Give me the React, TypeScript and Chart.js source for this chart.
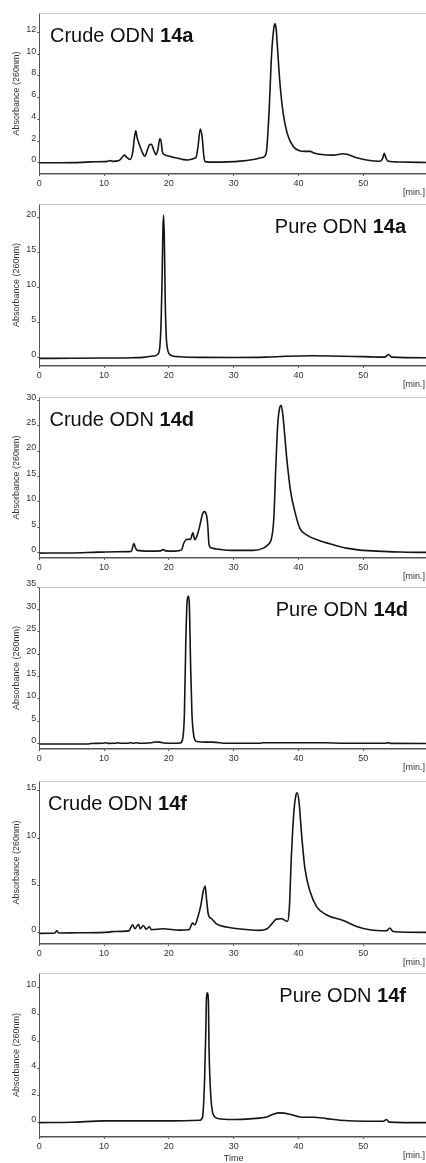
import React, { useEffect, useRef } from 'react';
import { Chart, registerables } from 'chart.js';

Chart.register(...registerables);

// ---------- tick labels ----------
const xTicks = [0, 10, 20, 30, 40, 50];
const yTicks14aCrude = [0, 2, 4, 6, 8, 10, 12];
const yTicks14aPure = [0, 5, 10, 15, 20];
const yTicks14dCrude = [0, 5, 10, 15, 20, 25, 30];
const yTicks14dPure = [0, 5, 10, 15, 20, 25, 30, 35];
const yTicks14fCrude = [0, 5, 10, 15];
const yTicks14fPure = [0, 2, 4, 6, 8, 10];

// ---------- series (time [min], absorbance) ----------
const crude14aTime = [0, 3, 6.5, 8, 10.5, 11.0, 11.3, 12.3, 12.8, 13.1, 13.5, 14.0, 14.4, 14.7, 14.9, 15.1, 15.4, 15.8, 16.3, 16.7, 17.0, 17.3, 17.7, 18.0, 18.3, 18.6, 18.8, 19.0, 19.3, 20.0, 21.0, 22.0, 23.0, 23.4, 23.8, 24.2, 24.5, 24.85, 25.15, 25.4, 25.6, 27, 29, 31, 33, 34.2, 34.8, 35.1, 35.45, 35.86, 36.2, 36.37, 36.55, 36.79, 37.15, 37.66, 38.27, 39.2, 40.2, 41.0, 41.8, 42.4, 43.3, 45.4, 46.9, 47.5, 49, 50.5, 52.6, 53.0, 53.24, 53.5, 53.8, 55.7, 60];
const crude14aAbs = [0, 0, 0.03, 0.08, 0.12, 0.2, 0.12, 0.2, 0.5, 0.7, 0.5, 0.3, 0.9, 2.4, 2.95, 2.3, 1.75, 1.1, 0.6, 1.2, 1.65, 1.7, 1.1, 0.75, 1.2, 2.2, 2.0, 1.0, 0.75, 0.62, 0.45, 0.32, 0.25, 0.3, 0.38, 0.5, 1.5, 3.1, 2.3, 0.6, 0.1, 0.05, 0.08, 0.15, 0.3, 0.45, 0.6, 1.2, 4.5, 10.0, 12.4, 12.8, 12.4, 10.4, 7.3, 4.5, 2.7, 1.5, 1.1, 1.05, 1.05, 0.9, 0.78, 0.7, 0.82, 0.78, 0.46, 0.25, 0.13, 0.4, 0.86, 0.45, 0.15, 0.06, 0.02];

const pure14aTime = [0, 5, 10, 14.5, 16, 17.6, 18.3, 18.6, 18.8, 18.95, 19.08, 19.19, 19.3, 19.44, 19.6, 19.8, 20.1, 20.6, 21.7, 25, 30, 35, 38, 42, 45, 50, 53.3, 53.9, 54.4, 60];
const pure14aAbs = [-0.1, -0.08, -0.05, 0, 0.05, 0.24, 0.5, 1.5, 5, 11, 18.2, 20.3, 17, 8, 3, 1.2, 0.5, 0.25, 0.14, 0.05, 0.03, 0.08, 0.2, 0.28, 0.25, 0.15, 0.08, 0.45, 0.08, 0];

const crude14dTime = [0, 5, 9, 12, 14.2, 14.6, 14.85, 15.1, 17, 18.7, 19.1, 19.5, 21, 21.96, 22.3, 22.7, 23.35, 23.7, 24.0, 24.4, 24.8, 25.15, 25.46, 25.8, 26.0, 26.2, 26.6, 27.9, 29.9, 33, 34.6, 35.3, 35.85, 36.2, 36.5, 36.8, 37.1, 37.35, 37.65, 38.2, 38.8, 39.45, 40.2, 41.25, 43.3, 45.4, 47.4, 49.5, 53.1, 55.7, 60];
const crude14dAbs = [-0.13, -0.1, 0.05, 0.12, 0.2, 1.77, 0.9, 0.4, 0.25, 0.3, 0.55, 0.3, 0.25, 0.5, 1.8, 2.55, 2.6, 3.86, 2.5, 3.5, 5.4, 7.4, 8.05, 7.4, 5.4, 1.5, 0.85, 0.6, 0.4, 0.4, 0.85, 1.5, 2.8, 6.7, 16.6, 25.1, 28.5, 29.0, 26.4, 18.5, 12, 8.05, 4.8, 3.47, 2.3, 1.5, 0.85, 0.46, 0.2, 0.07, 0];

const pure14dTime = [0, 7.5, 8, 9.8, 10.2, 10.6, 11.8, 12.1, 12.5, 13.8, 14.1, 14.5, 15.0, 15.5, 17.2, 17.8, 18.6, 19.2, 21, 21.7, 22.1, 22.4, 22.6, 22.8, 23.0, 23.15, 23.35, 23.56, 23.87, 24.3, 25.8, 26.8, 28.9, 34, 34.6, 44, 46.9, 53.4, 53.8, 54.2, 60];
const pure14dAbs = [-0.05, -0.05, 0.05, 0.1, 0.2, 0.08, 0.1, 0.22, 0.1, 0.12, 0.25, 0.1, 0.2, 0.1, 0.2, 0.4, 0.35, 0.15, 0.1, 0.15, 0.9, 6.8, 21.7, 31.4, 33, 31.4, 18, 6.8, 1.6, 0.5, 0.35, 0.35, 0.1, 0.1, 0.22, 0.22, 0.1, 0.1, 0.25, 0.08, 0.05];

const crude14fTime = [0, 2.4, 2.7, 3.0, 6, 10.8, 11.2, 13.8, 14.4, 14.76, 15.3, 15.6, 16.05, 16.5, 17.0, 17.3, 19.1, 21.7, 23.1, 23.66, 24.0, 24.5, 24.95, 25.3, 25.6, 25.8, 26.1, 26.6, 27.4, 28.9, 31, 34, 35.1, 35.85, 36.6, 37.4, 38.3, 38.6, 38.9, 39.3, 39.6, 39.8, 40.1, 40.5, 41.0, 41.8, 42.8, 44.3, 46.9, 49, 51, 53.6, 54.1, 54.6, 60];
const crude14fAbs = [-0.07, -0.03, 0.2, -0.03, 0.0, 0.07, 0.12, 0.2, 0.84, 0.42, 0.9, 0.42, 0.77, 0.38, 0.63, 0.32, 0.42, 0.28, 0.32, 1.02, 0.84, 1.72, 2.95, 4.36, 4.95, 3.65, 1.9, 1.48, 0.91, 0.6, 0.39, 0.25, 0.39, 0.91, 1.44, 1.48, 1.2, 2.6, 7.9, 12.8, 14.5, 14.8, 13.8, 10.3, 6.8, 4.36, 2.77, 1.9, 1.3, 0.67, 0.32, 0.21, 0.5, 0.14, 0.04];

const pure14fTime = [0, 5, 10, 15, 20, 24.8, 25.2, 25.5, 25.7, 25.8, 25.93, 26.1, 26.2, 26.5, 26.9, 27.6, 29.9, 33, 35.1, 36.1, 37.1, 38.7, 39.7, 40.5, 42.3, 44.3, 46.4, 50.5, 53.1, 53.6, 54, 60];
const pure14fAbs = [0.02, 0.05, 0.15, 0.15, 0.15, 0.2, 0.44, 3.0, 6.7, 9.2, 9.6, 9.0, 5.5, 1.8, 0.57, 0.32, 0.25, 0.32, 0.44, 0.64, 0.74, 0.64, 0.5, 0.42, 0.42, 0.32, 0.2, 0.12, 0.12, 0.25, 0.06, 0.02];

const FONT = "'Liberation Sans', Arial, Helvetica, sans-serif";

type PanelDef = {
  time: number[];
  abs: number[];
  yTicks: number[];
  yMin: number;
  yMax: number;
  top: number;
  bottom: number;
  name: string;
  bold: string;
  align: 'left' | 'right';
  titleX: number;
  showTime: boolean;
};

const panels: PanelDef[] = [
  { time: crude14aTime, abs: crude14aAbs, yTicks: yTicks14aCrude, yMin: -1.04, yMax: 13.8, top: 13, bottom: 174, name: 'Crude ODN ', bold: '14a', align: 'left', titleX: 50, showTime: false },
  { time: pure14aTime, abs: pure14aAbs, yTicks: yTicks14aPure, yMin: -1.18, yMax: 21.9, top: 204, bottom: 366, name: 'Pure ODN ', bold: '14a', align: 'right', titleX: 406, showTime: false },
  { time: crude14dTime, abs: crude14dAbs, yTicks: yTicks14dCrude, yMin: -1.1, yMax: 30.65, top: 397, bottom: 558, name: 'Crude ODN ', bold: '14d', align: 'left', titleX: 49.5, showTime: false },
  { time: pure14dTime, abs: pure14dAbs, yTicks: yTicks14dPure, yMin: -1.18, yMax: 35, top: 587, bottom: 749, name: 'Pure ODN ', bold: '14d', align: 'right', titleX: 408, showTime: false },
  { time: crude14fTime, abs: crude14fAbs, yTicks: yTicks14fCrude, yMin: -1.19, yMax: 16.05, top: 781, bottom: 944, name: 'Crude ODN ', bold: '14f', align: 'left', titleX: 48, showTime: false },
  { time: pure14fTime, abs: pure14fAbs, yTicks: yTicks14fPure, yMin: -1.04, yMax: 11.07, top: 973, bottom: 1137, name: 'Pure ODN ', bold: '14f', align: 'right', titleX: 406, showTime: true },
];

const PAD_TOP = 12;
const X_AXIS_H = 30;
const CANVAS_W = 432;

function PanelChart({ p }: { p: PanelDef }) {
  const ref = useRef<HTMLCanvasElement | null>(null);
  const h = p.bottom - p.top + PAD_TOP + X_AXIS_H;

  useEffect(() => {
    if (!ref.current) return;
    const deco = {
      id: 'deco',
      afterDraw(chart: any) {
        const { ctx, chartArea } = chart;
        ctx.save();
        // top border
        ctx.strokeStyle = '#c4c4c4';
        ctx.lineWidth = 1;
        ctx.beginPath();
        ctx.moveTo(chartArea.left, chartArea.top + 0.5);
        ctx.lineTo(chartArea.right, chartArea.top + 0.5);
        ctx.stroke();
        // panel title
        ctx.fillStyle = '#111';
        ctx.textBaseline = 'alphabetic';
        ctx.font = `20px ${FONT}`;
        const w1 = ctx.measureText(p.name).width;
        ctx.font = `bold 20px ${FONT}`;
        const w2 = ctx.measureText(p.bold).width;
        const baseY = chartArea.top + 28.5;
        const startX = p.align === 'left' ? p.titleX : p.titleX - (w1 + w2);
        ctx.font = `20px ${FONT}`;
        ctx.fillText(p.name, startX, baseY);
        ctx.font = `bold 20px ${FONT}`;
        ctx.fillText(p.bold, startX + w1, baseY);
        // [min.] unit
        ctx.font = `9px ${FONT}`;
        ctx.fillStyle = '#333';
        ctx.textAlign = 'right';
        ctx.textBaseline = 'middle';
        ctx.fillText('[min.]', 425, chartArea.bottom + 19);
        if (p.showTime) {
          ctx.textAlign = 'center';
          ctx.fillText('Time', chart.scales.x.getPixelForValue(30), chartArea.bottom + 21.5);
        }
        ctx.restore();
      },
    };

    const chart = new Chart(ref.current, {
      type: 'line',
      data: {
        datasets: [
          {
            data: p.time.map((t, i) => ({ x: t, y: p.abs[i] })),
            borderColor: '#151515',
            borderWidth: 1.6,
            pointRadius: 0,
            fill: false,
            cubicInterpolationMode: 'monotone',
          },
        ],
      },
      options: {
        animation: false,
        responsive: false,
        devicePixelRatio: 1,
        events: [],
        layout: { padding: { top: PAD_TOP, right: CANVAS_W - 428, left: 0, bottom: 0 } },
        plugins: { legend: { display: false }, tooltip: { enabled: false }, title: { display: false } },
        scales: {
          x: {
            type: 'linear',
            min: 0,
            max: 60,
            afterBuildTicks: (scale: any) => {
              scale.ticks = xTicks.map((v) => ({ value: v }));
            },
            afterFit: (scale: any) => {
              scale.height = X_AXIS_H;
            },
            grid: { display: true, drawOnChartArea: false, drawTicks: true, tickLength: 2, color: '#555' },
            border: { display: true, color: '#555', width: 1.5 },
            ticks: { font: { family: FONT, size: 9 }, color: '#333', padding: 2, maxRotation: 0, autoSkip: false },
          },
          y: {
            type: 'linear',
            min: p.yMin,
            max: p.yMax,
            afterBuildTicks: (scale: any) => {
              scale.ticks = p.yTicks.map((v) => ({ value: v }));
            },
            afterFit: (scale: any) => {
              scale.width = 39.3;
            },
            grid: { display: true, drawOnChartArea: false, drawTicks: true, tickLength: 2, color: '#555' },
            border: { display: true, color: '#555', width: 1 },
            ticks: { font: { family: FONT, size: 9 }, color: '#333', padding: 1, labelOffset: -3, autoSkip: false },
            title: {
              display: true,
              text: 'Absorbance (260nm)',
              font: { family: FONT, size: 9 },
              color: '#333',
              padding: { top: 11.6, bottom: 0 },
            },
          },
        },
      },
      plugins: [deco],
    } as any);
    return () => chart.destroy();
  }, [p]);

  return (
    <canvas
      ref={ref}
      width={CANVAS_W}
      height={h}
      style={{ position: 'absolute', left: 0, top: p.top - PAD_TOP, width: CANVAS_W, height: h }}
    />
  );
}

export default function App() {
  return (
    <div
      style={{
        position: 'absolute',
        left: 0,
        top: 0,
        width: 426,
        height: 1163,
        overflow: 'hidden',
        background: '#fff',
      }}
    >
      {panels.map((p, i) => (
        <PanelChart key={i} p={p} />
      ))}
    </div>
  );
}
